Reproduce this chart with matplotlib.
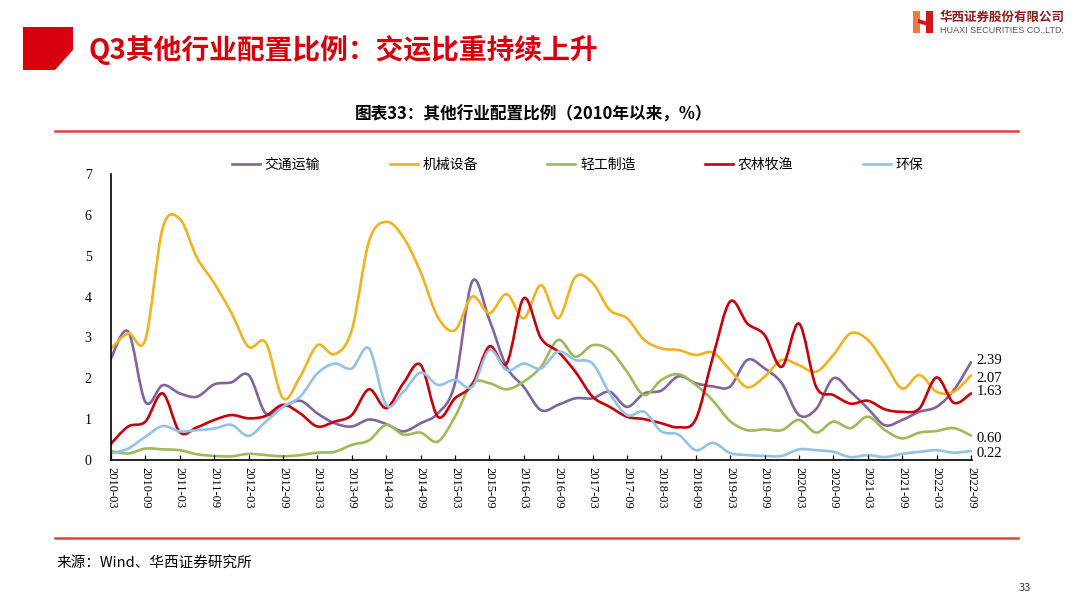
import matplotlib
matplotlib.use('Agg')
import matplotlib.pyplot as plt
from matplotlib.patches import Polygon, Rectangle, PathPatch
from matplotlib.path import Path
from matplotlib.lines import Line2D

# quarters 2010-03 .. 2022-09
quarters = ['%d-%s' % (y, m) for y in range(2010, 2023) for m in ('03', '06', '09', '12')][:51]

names = ['交通运输', '机械设备', '轻工制造', '农林牧渔', '环保']

jtys = [2.49, 3.14, 1.42, 1.83, 1.63, 1.55, 1.85, 1.90, 2.08, 1.14,
        1.30, 1.45, 1.14, 0.90, 0.82, 0.99, 0.88, 0.70, 0.90, 1.14,
        1.88, 4.37, 3.43, 2.28, 1.79, 1.22, 1.35, 1.51, 1.51, 1.67,
        1.30, 1.63, 1.70, 2.05, 1.88, 1.80, 1.80, 2.45, 2.24, 1.88,
        1.10, 1.25, 2.00, 1.67, 1.26, 0.85, 0.98, 1.18, 1.30, 1.71,
        2.39]
jxsb = [2.73, 3.10, 2.95, 5.67, 5.90, 4.95, 4.33, 3.60, 2.77, 2.87,
        1.51, 2.04, 2.81, 2.59, 3.18, 5.35, 5.83, 5.45, 4.60, 3.50,
        3.18, 4.00, 3.59, 4.06, 3.47, 4.28, 3.47, 4.48, 4.33, 3.67,
        3.47, 2.94, 2.73, 2.69, 2.57, 2.63, 2.20, 1.78, 2.04, 2.45,
        2.32, 2.16, 2.57, 3.10, 2.94, 2.36, 1.75, 2.08, 1.67, 1.67,
        2.07]
qgzz = [0.22, 0.16, 0.28, 0.26, 0.24, 0.14, 0.10, 0.09, 0.15, 0.12,
        0.09, 0.12, 0.18, 0.20, 0.37, 0.48, 0.86, 0.62, 0.67, 0.45,
        1.06, 1.88, 1.88, 1.73, 1.92, 2.28, 2.94, 2.53, 2.81, 2.69,
        2.16, 1.59, 1.96, 2.10, 1.84, 1.45, 0.95, 0.73, 0.75, 0.73,
        0.98, 0.67, 0.94, 0.78, 1.06, 0.73, 0.53, 0.67, 0.71, 0.78,
        0.60]
nlmy = [0.40, 0.82, 0.94, 1.63, 0.68, 0.80, 0.98, 1.10, 1.02, 1.08,
        1.35, 1.14, 0.82, 0.94, 1.10, 1.73, 1.27, 1.88, 2.33, 1.06,
        1.51, 1.84, 2.78, 2.36, 3.96, 2.98, 2.65, 2.16, 1.55, 1.30,
        1.06, 1.00, 0.90, 0.80, 1.00, 2.53, 3.88, 3.34, 3.06, 2.28,
        3.34, 1.79, 1.59, 1.38, 1.45, 1.24, 1.18, 1.26, 2.02, 1.40,
        1.63]
hb = [0.16, 0.28, 0.57, 0.83, 0.70, 0.73, 0.77, 0.86, 0.59, 0.94,
      1.30, 1.55, 2.12, 2.36, 2.24, 2.73, 1.35, 1.67, 2.14, 1.84,
      1.96, 1.79, 2.69, 2.20, 2.36, 2.24, 2.65, 2.45, 2.36, 1.63,
      1.10, 1.18, 0.70, 0.62, 0.24, 0.42, 0.17, 0.12, 0.10, 0.10,
      0.26, 0.24, 0.20, 0.07, 0.12, 0.07, 0.15, 0.20, 0.24, 0.18,
      0.22]

series = [jtys, jxsb, qgzz, nlmy, hb]
colors = ['#8064A2', '#F0B21E', '#9BBB59', '#C8000A', '#92C3E6']
label_dy = [1, -2, -2, 1.5, -1.5]   # small vertical nudges of the end labels

plt.rcParams['font.family'] = ['Noto Sans CJK SC', 'DejaVu Sans']

W, H = 1080, 605
fig = plt.figure(figsize=(W / 100, H / 100), dpi=100)
fig.patch.set_facecolor('white')


def px(x, y):
    return (x / W, 1 - y / H)


def smooth_path(xv, yv, t=1 / 6):
    # excel-like smoothed line: bezier segments through every data point
    n = len(xv)
    verts = [(xv[0], yv[0])]
    codes = [Path.MOVETO]
    for i in range(n - 1):
        a = max(i - 1, 0)
        d = min(i + 2, n - 1)
        c1 = (xv[i] + (xv[i + 1] - xv[a]) * t, yv[i] + (yv[i + 1] - yv[a]) * t)
        c2 = (xv[i + 1] - (xv[d] - xv[i]) * t, yv[i + 1] - (yv[d] - yv[i]) * t)
        verts += [c1, c2, (xv[i + 1], yv[i + 1])]
        codes += [Path.CURVE4] * 3
    return Path(verts, codes)


# header
fig.add_artist(Polygon([px(23, 27), px(73, 27), px(73, 50), px(55, 70), px(23, 70)],
                       closed=True, transform=fig.transFigure, color='#D9000D', lw=0))
fig.text(*px(89, 50), 'Q3其他行业配置比例：交运比重持续上升', fontsize=20,
         fontweight='bold', color='#D9000D', va='center', ha='left')

# logo
fig.add_artist(Rectangle(px(913, 33), 7 / W, 22 / H, transform=fig.transFigure, color='#EE7B3A', lw=0))
fig.add_artist(Rectangle(px(926, 33), 7 / W, 22 / H, transform=fig.transFigure, color='#D7141A', lw=0))
fig.add_artist(Polygon([px(918, 19), px(928, 22), px(928, 26), px(918, 23)], closed=True,
                       transform=fig.transFigure, color='#D7141A', lw=0))
fig.text(*px(940, 17), '华西证券股份有限公司', fontsize=9, fontweight='bold',
         color='#8C1D1D', va='center', ha='left')
fig.text(*px(940, 30), 'HUAXI SECURITIES CO.,LTD.', fontsize=6.5, family='Liberation Sans',
         color='#555555', va='center', ha='left')

# chart title and rules
fig.text(*px(534, 115), '图表33：其他行业配置比例（2010年以来，%）', fontsize=12,
         fontweight='bold', color='black', va='center', ha='center')
for yy in (131, 538):
    fig.add_artist(Line2D([55 / W, 1018 / W], [1 - yy / H] * 2, color='#E2403A', lw=1.8))

fig.text(*px(57, 563), '来源：Wind、华西证券研究所', fontsize=10.5, va='center', ha='left')
fig.text(*px(1025, 588), '33', fontsize=8, color='#333333', va='center', ha='center')

# plot area
ax = fig.add_axes([111 / W, 1 - 460 / H, (972 - 111) / W, (460 - 174) / H])
xs = list(range(len(quarters)))
for name, vals, col, dy in zip(names, series, colors, label_dy):
    ax.add_patch(PathPatch(smooth_path(xs, vals), fill=False, edgecolor=col, lw=1.9,
                           capstyle='round', joinstyle='round'))
    ax.plot([], [], color=col, lw=1.9, label=name)
    ax.annotate('%.2f' % vals[-1], (xs[-1], vals[-1]), xytext=(4, dy),
                textcoords='offset points', va='center', ha='left',
                fontsize=10.5, family='Liberation Serif')

ax.set_xlim(0, 50.06)
ax.set_ylim(0, 7)
ax.set_xticks(xs[::2])
ax.set_xticklabels(quarters[::2], rotation=270, ha='center', va='top',
                   family='Liberation Serif', fontsize=9)
ax.set_yticks(range(0, 8))
ax.set_yticklabels([str(v) for v in range(0, 8)], family='Liberation Serif', fontsize=10)
ax.tick_params(axis='x', direction='in', length=3.5, width=0.9, pad=5)
ax.tick_params(axis='y', length=0, pad=14)
for s in ('top', 'right'):
    ax.spines[s].set_visible(False)
for s in ('left', 'bottom'):
    ax.spines[s].set_linewidth(1.2)
    ax.spines[s].set_color('black')

ax.legend(loc='center left', bbox_to_anchor=px(232, 165), bbox_transform=fig.transFigure,
          ncol=5, frameon=False, fontsize=10, handlelength=2.0, handletextpad=0.36,
          columnspacing=5.0, borderpad=0, borderaxespad=0)

fig.savefig('out.png', dpi=100, facecolor='white')
